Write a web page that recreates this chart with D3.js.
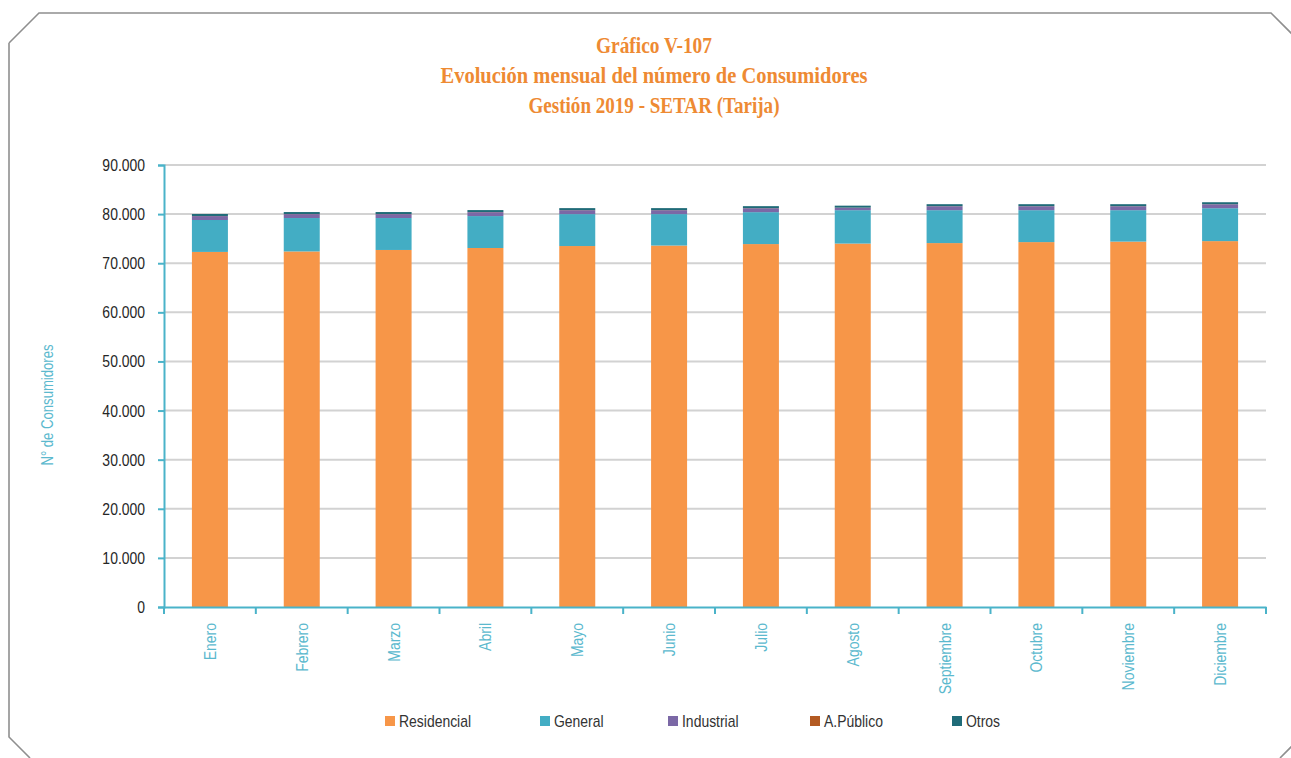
<!DOCTYPE html>
<html>
<head>
<meta charset="utf-8">
<script src="https://cdn.jsdelivr.net/npm/d3@7"></script>
<style>
  html, body { margin: 0; padding: 0; background: #fff; }
  svg { display: block; }
</style>
</head>
<body>
<svg id="chart" width="1291" height="758"></svg>
<script>
// Monthly number of consumers by category, 2019
const months = ["Enero", "Febrero", "Marzo", "Abril", "Mayo", "Junio",
                "Julio", "Agosto", "Septiembre", "Octubre", "Noviembre", "Diciembre"];
const residencial = [72300, 72400, 72700, 73100, 73500, 73600, 73900, 74000, 74100, 74300, 74400, 74500];
const general     = [6500, 6800, 6500, 6500, 6500, 6400, 6500, 6800, 6700, 6500, 6400, 6700];
const industrial  = [800, 800, 800, 800, 800, 800, 800, 500, 800, 800, 800, 800];
const aPublico    = [20, 20, 20, 20, 20, 20, 20, 20, 20, 20, 20, 20];
const otros       = [400, 400, 400, 400, 400, 400, 400, 400, 400, 400, 400, 400];
const yTicks = [0, 10000, 20000, 30000, 40000, 50000, 60000, 70000, 80000, 90000];

const seriesNames = ["Residencial", "General", "Industrial", "A.Público", "Otros"];
const seriesValues = [residencial, general, industrial, aPublico, otros];
const colors = ["#F79648", "#43ADC4", "#7B68A6", "#B35A22", "#1F6B78"];

const axisBlue = "#4AB3C9";
const labelBlue = "#5BB9CE";
const sans = "'Liberation Sans', Arial, sans-serif";

// Narrow a sans face horizontally to get a condensed look
function condense(sel, factor) {
  sel.each(function () {
    const len = this.getComputedTextLength();
    d3.select(this)
      .attr("textLength", len * factor)
      .attr("lengthAdjust", "spacingAndGlyphs");
  });
}

const svg = d3.select("#chart");

// Frame with chamfered corners
svg.append("path")
  .attr("d", "M9,43 L39,13 L1271,13 L1300,42 M9,43 L9,737 L30,758 M1280,758 L1292,746")
  .attr("fill", "none")
  .attr("stroke", "#8f8f8f")
  .attr("stroke-width", 1.6);

// Title
const titleLines = [
  {text: "Gráfico V-107", y: 53, w: 116},
  {text: "Evolución mensual del número de Consumidores", y: 83, w: 427},
  {text: "Gestión 2019 - SETAR (Tarija)", y: 113, w: 251}
];
svg.append("g").selectAll("text").data(titleLines).join("text")
  .attr("x", 654)
  .attr("y", d => d.y)
  .attr("text-anchor", "middle")
  .attr("textLength", d => d.w)
  .attr("lengthAdjust", "spacingAndGlyphs")
  .attr("font-family", "'Liberation Serif', 'DejaVu Serif', serif")
  .attr("font-weight", "bold")
  .attr("font-size", 23)
  .attr("fill", "#EE8A33")
  .text(d => d.text);

// Scales
const x = d3.scaleBand().domain(months).range([164, 1266]).paddingInner(0.608).paddingOuter(0.304);
const y = d3.scaleLinear().domain([0, 90000]).range([607, 165]);

// Gridlines
svg.append("g").selectAll("line").data(yTicks.filter(v => v > 0)).join("line")
  .attr("x1", 164).attr("x2", 1266)
  .attr("y1", d => y(d)).attr("y2", d => y(d))
  .attr("stroke", "#d2d2d2")
  .attr("stroke-width", 2);

// Stacked bars
const rows = months.map((m, i) => {
  const r = {month: m};
  seriesNames.forEach((s, k) => { r[s] = seriesValues[k][i]; });
  return r;
});
const stacked = d3.stack().keys(seriesNames)(rows);

svg.append("g").selectAll("g").data(stacked).join("g")
  .attr("fill", (d, i) => colors[i])
  .selectAll("rect").data(d => d).join("rect")
  .attr("x", d => x(d.data.month))
  .attr("width", x.bandwidth())
  .attr("y", d => y(d[1]))
  .attr("height", d => y(d[0]) - y(d[1]));

// Y axis
const yAxis = svg.append("g")
  .attr("transform", "translate(164,0)")
  .call(d3.axisLeft(y).tickValues(yTicks).tickSize(6).tickPadding(13)
    .tickFormat(d => d3.format(",")(d).replace(/,/g, ".")));
yAxis.select(".domain").attr("stroke", axisBlue).attr("stroke-width", 2);
yAxis.selectAll(".tick line").attr("stroke", axisBlue).attr("stroke-width", 2);
yAxis.selectAll(".tick text")
  .attr("font-family", sans)
  .attr("font-size", 17)
  .attr("fill", "#262626")
  .call(condense, 0.82);

// X axis
const xAxis = svg.append("g")
  .attr("transform", "translate(0,607)")
  .call(d3.axisBottom(x).tickSize(0).tickPadding(0));
xAxis.select(".domain").attr("stroke", axisBlue).attr("stroke-width", 2);
xAxis.selectAll(".tick text")
  .attr("font-family", sans)
  .attr("font-size", 17)
  .attr("fill", labelBlue)
  .attr("text-anchor", "end")
  .attr("dy", "0.35em")
  .attr("transform", "translate(0,16) rotate(-90)")
  .attr("x", 0).attr("y", 0)
  .call(condense, 0.82);

// Category boundary ticks on the x axis
const bounds = months.map(m => x(m) - (x.step() - x.bandwidth()) / 2);
bounds.push(1266);
svg.append("g").selectAll("line").data(bounds).join("line")
  .attr("x1", d => d).attr("x2", d => d)
  .attr("y1", 607).attr("y2", 614)
  .attr("stroke", axisBlue)
  .attr("stroke-width", 2);

// Y axis title
svg.append("text")
  .attr("transform", "translate(53,405) rotate(-90)")
  .attr("text-anchor", "middle")
  .attr("font-family", sans)
  .attr("font-size", 16)
  .attr("fill", labelBlue)
  .text("N° de Consumidores")
  .call(condense, 0.82);

// Legend
const legendX = [385, 540, 668, 810, 952];
const legend = svg.append("g").selectAll("g").data(seriesNames).join("g")
  .attr("transform", (d, i) => `translate(${legendX[i]},716)`);
legend.append("rect")
  .attr("width", 10).attr("height", 10)
  .attr("fill", (d, i) => colors[i]);
legend.append("text")
  .attr("x", 14).attr("y", 5)
  .attr("dy", "0.35em")
  .attr("font-family", sans)
  .attr("font-size", 17)
  .attr("fill", "#333")
  .text(d => d)
  .call(condense, 0.82);
</script>
</body>
</html>
